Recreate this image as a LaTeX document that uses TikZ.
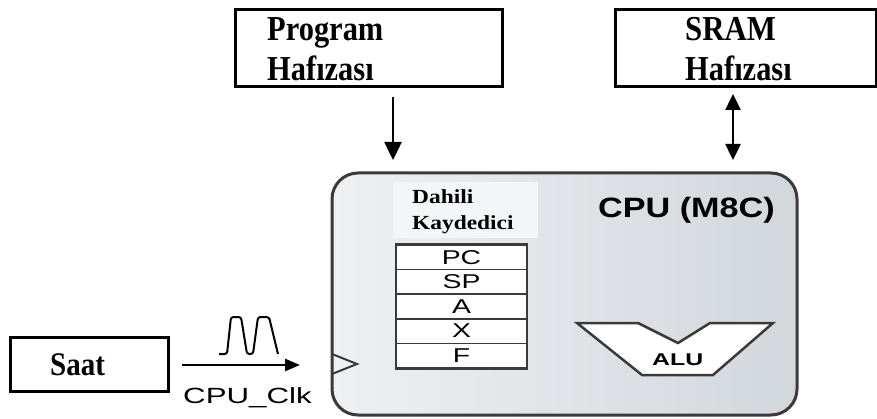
\documentclass[tikz,border=0pt]{standalone}
\usepackage{fontspec}
\setmainfont{Liberation Serif}
\newfontfamily\arialf{Liberation Sans}
\usetikzlibrary{arrows.meta,calc}
\newcommand{\stretchx}[2]{\scalebox{#1}[1]{#2}}
\definecolor{cpuedge}{HTML}{3A3A3A}
\definecolor{cpuleft}{HTML}{EEF0F2}
\definecolor{cpuright}{HTML}{D2D7DC}
\definecolor{patch}{HTML}{F4F5F6}
\begin{document}
\begin{tikzpicture}[x=1pt,y=-1pt,
  membox/.style={draw=black, line width=3pt, fill=white, inner sep=0pt},
  memtxt/.style={font=\fontsize{35}{40}\selectfont\bfseries, inner sep=0pt, anchor=base west},
  arr/.style={line width=2.5pt, -{Triangle[length=15pt,width=12pt]}},
  bigarr/.style={line width=2.5pt, -{Triangle[length=18pt,width=17pt]}},
  darr/.style={line width=2.5pt, {Triangle[length=16pt,width=15pt]}-{Triangle[length=16pt,width=15pt]}},
  cpubox/.style={draw=cpuedge, line width=3pt, rounded corners=26pt,
    left color=cpuleft, right color=cpuright, minimum width=465pt, minimum height=242pt},
  regrow/.style={draw=cpuedge, line width=1.4pt, fill=white, minimum width=130pt,
    minimum height=24.6pt, inner sep=0pt, font=\arialf\fontsize{20}{20}\selectfont},
  sanslabel/.style={inner sep=0pt, anchor=base west}]
\useasboundingbox (0,0) rectangle (877,419);

% memories
\node[membox, minimum width=267pt, minimum height=77pt] (prog) at (368.5,48.5) {};
\node[memtxt] (progA) at (267,41) {\stretchx{0.87}{Program}};
\node[memtxt] (progB) at (267,81) {\stretchx{0.87}{Hafızası}};

\node[membox, minimum width=261pt, minimum height=77pt] (sram) at (746,48.5) {};
\node[memtxt] (sramA) at (685,41) {\stretchx{0.88}{SRAM}};
\node[memtxt] (sramB) at (685,81) {\stretchx{0.87}{Hafızası}};

% CPU
\node[cpubox] (cpu) at (564.5,294) {};
\fill[patch] (393,182) rectangle (538,238);
\node[sanslabel, font=\fontsize{20}{24}\selectfont\bfseries] (dahA) at (412,204) {\stretchx{1.17}{Dahili}};
\node[sanslabel, font=\fontsize{20}{24}\selectfont\bfseries] (dahB) at (412,230) {\stretchx{1.17}{Kaydedici}};
\node[sanslabel, font=\arialf\fontsize{28}{30}\selectfont\bfseries] (cpuname) at (598,218) {\stretchx{1.22}{CPU (M8C)}};

% register file
\foreach \t [count=\i] in {PC,SP,A,X,F}
  \node[regrow] (r\i) at (461.5,232.7+24.6*\i) {\stretchx{1.42}{\t}};
\draw[cpuedge, line width=2pt] (r1.north west) rectangle (r5.south east);

% ALU
\draw[cpuedge, line width=2.5pt, fill=white, line join=miter]
  (577,323) -- (638,323) -- (678,343) -- (710,323) -- (773,323)
  -- (713,375) -- (642,375) -- cycle;
\node[sanslabel, font=\arialf\fontsize{17}{20}\selectfont\bfseries] (alu) at (652,365) {\stretchx{1.46}{ALU}};

% clock input marker
\draw[cpuedge, line width=2pt, line join=miter] (332,354) -- (357,364) -- (332,374);

% clock source
\node[membox, minimum width=158pt, minimum height=54pt] (saat) at (89,364) {};
\node[sanslabel, font=\fontsize{33}{36}\selectfont\bfseries] (saatT) at (50,375) {\stretchx{0.88}{Saat}};

\coordinate (clkout) at (182,365);
\coordinate (clkin) at (300,365);
\draw[arr] (clkout) -- (clkin);
\draw[line width=2pt, rounded corners=2.5pt]
  (219,354) -- (227,354) -- (231,317) -- (241,317) -- (247,354) -- (253,354)
  -- (258,317) -- (269,317) -- (278,354);
\node[sanslabel, font=\arialf\fontsize{22}{24}\selectfont] (clk) at (183,403) {\stretchx{1.42}{CPU\_Clk}};

% buses
\coordinate (pgOut) at (393,97);
\coordinate (pgIn) at (393,160);
\draw[bigarr] (pgOut) -- (pgIn);
\coordinate (srOut) at (733,94);
\coordinate (srIn) at (733,160);
\draw[darr] (srOut) -- (srIn);
\end{tikzpicture}
\end{document}
